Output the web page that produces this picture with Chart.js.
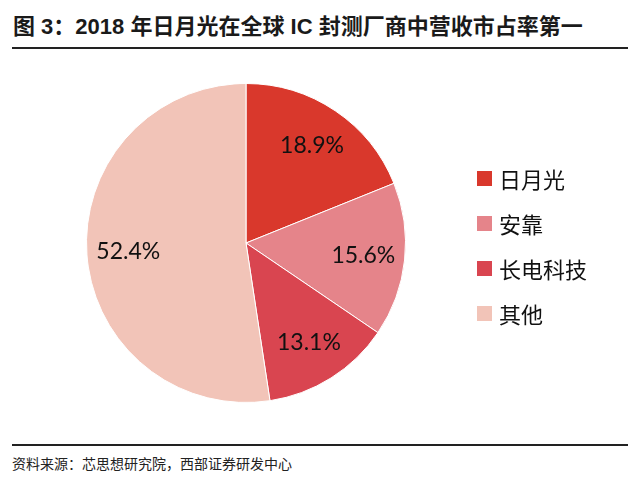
<!DOCTYPE html>
<html>
<head>
<meta charset="utf-8">
<script src="https://cdn.jsdelivr.net/npm/chart.js@4"></script>
<style>
  body { margin: 0; background: #fff; }
  #wrap { position: relative; width: 640px; height: 484px; overflow: hidden; }
  #title {
    position: absolute; left: 13px; top: 8px;
    font: bold 22px "Liberation Sans", "Noto Sans CJK SC", sans-serif;
    color: #1a1a1a; white-space: nowrap;
  }
  .rule { position: absolute; left: 12px; width: 616px; height: 2px; background: #222; }
  #chartBox { position: absolute; left: 0; top: 60px; width: 640px; height: 370px; }
  #legend { position: absolute; left: 477px; top: 162px; }
  .item { height: 45px; display: flex; align-items: center; white-space: nowrap;
    font: 22px "Noto Sans CJK SC", sans-serif; color: #111; }
  .swatch { width: 15px; height: 15px; margin-right: 7px; margin-top: -12px; }
  .item span.txt { position: relative; top: -7px; }
  #source {
    position: absolute; left: 12px; top: 453px;
    font: 14px "Noto Sans CJK SC", sans-serif; color: #222; white-space: nowrap;
  }
</style>
</head>
<body>
<div id="wrap">
  <div id="title">图 3：2018 年日月光在全球 IC 封测厂商中营收市占率第一</div>
  <div class="rule" style="top:47px"></div>
  <div id="chartBox"><canvas id="pieChart"></canvas></div>
  <div id="legend"></div>
  <div class="rule" style="top:444px"></div>
  <div id="source">资料来源：芯思想研究院，西部证券研发中心</div>
</div>
<script>
"use strict";

// Market share of IC packaging & testing vendors, 2018 (%)
const vendors = ['日月光', '安靠', '长电科技', '其他'];
const shares = [18.9, 15.6, 13.1, 52.4];
const sliceColors = ['#d9382c', '#e5848a', '#d94550', '#f2c4b8'];

// Draw percentage text inside each slice
const sliceLabels = {
  id: 'sliceLabels',
  afterDatasetsDraw(chart) {
    const ctx = chart.ctx;
    const meta = chart.getDatasetMeta(0);
    ctx.save();
    ctx.font = '23px Lato, "Open Sans", sans-serif';
    ctx.fillStyle = '#111';
    ctx.textAlign = 'center';
    ctx.textBaseline = 'middle';
    meta.data.forEach((arc, i) => {
      const p = arc.getProps(['x', 'y', 'startAngle', 'endAngle', 'outerRadius'], true);
      const mid = (p.startAngle + p.endAngle) / 2;
      const r = p.outerRadius * 0.74;
      const value = chart.data.datasets[0].data[i];
      ctx.fillText(value.toFixed(1) + '%', p.x + Math.cos(mid) * r, p.y + Math.sin(mid) * r);
    });
    ctx.restore();
  }
};

const ctx = document.getElementById('pieChart').getContext('2d');
new Chart(ctx, {
  type: 'pie',
  data: {
    labels: vendors,
    datasets: [{
      data: shares,
      backgroundColor: sliceColors,
      borderColor: '#ffffff',
      borderWidth: 1
    }]
  },
  options: {
    responsive: true,
    maintainAspectRatio: false,
    animation: false,
    layout: { padding: { top: 23, bottom: 27, left: 86, right: 234 } },
    plugins: {
      legend: { display: false },
      tooltip: { enabled: false }
    }
  },
  plugins: [sliceLabels]
});

// Legend built from the same arrays
const legendBox = document.getElementById('legend');
vendors.forEach((name, i) => {
  const item = document.createElement('div');
  item.className = 'item';
  item.innerHTML = `<div class="swatch" style="background:${sliceColors[i]}"></div><span class="txt">${name}</span>`;
  legendBox.appendChild(item);
});
</script>
</body>
</html>
